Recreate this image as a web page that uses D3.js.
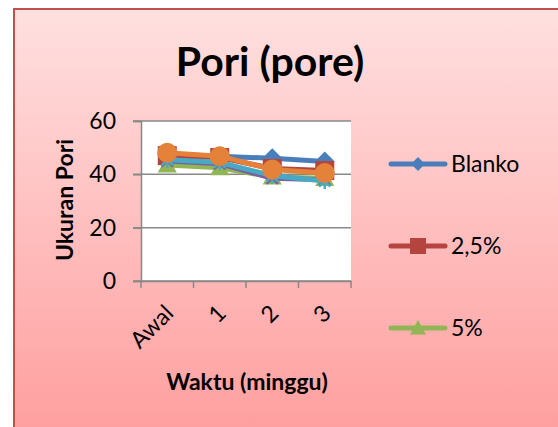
<!DOCTYPE html>
<html><head><meta charset="utf-8">
<script src="https://cdn.jsdelivr.net/npm/d3@7"></script>
<style>html,body{margin:0;padding:0;background:#fff;}svg{display:block;}</style>
</head><body>
<script>
const categories = ["Awal", "1", "2", "3"];
const seriesNames = ["Blanko", "2,5%", "5%", "7,5%", "10%", "12,5%"];
const blanko = [47.5, 46.8, 46.0, 44.8];
const s25 = [47.0, 46.3, 42.2, 41.4];
const s5 = [43.5, 42.5, 39.0, 38.5];
const s75 = [45.0, 44.0, 38.5, 38.0];
const s10 = [45.5, 44.5, 39.5, 37.5];
const s125 = [48.1, 46.8, 41.8, 40.5];
const yTicks = [0, 20, 40, 60];
const legendShown = 3;

const colors = ["#4A7EBB", "#B5443F", "#92B556", "#7D5FA0", "#46AAC4", "#E4823A"];
const markers = ["diamond", "square", "triangle", "x", "star", "circle"];
const allSeries = [blanko, s25, s5, s75, s10, s125];

const W = 558, H = 427;
const font = "Lato, 'Open Sans', 'DejaVu Sans', sans-serif";
const svg = d3.select("body").append("svg").attr("width", W).attr("height", H);
const defs = svg.append("defs");
const grad = defs.append("linearGradient").attr("id", "bg").attr("x1", 0).attr("y1", 0).attr("x2", 0).attr("y2", 1);
grad.append("stop").attr("offset", "0%").attr("stop-color", "#FFE0E0");
grad.append("stop").attr("offset", "100%").attr("stop-color", "#FF9E9E");

svg.append("rect").attr("x", 16).attr("y", 11).attr("width", W).attr("height", H).attr("fill", "#d9a0a0").attr("opacity", 0.4);
svg.append("rect").attr("x", 14).attr("y", 9).attr("width", W).attr("height", H)
  .attr("fill", "url(#bg)").attr("stroke", "#C0504D").attr("stroke-width", 2);

const plot = {l: 141, r: 351, t: 121, b: 281};
const x = d3.scaleBand().domain(categories).range([plot.l, plot.r]);
const y = d3.scaleLinear().domain([0, 60]).range([plot.b, plot.t]);

svg.append("rect").attr("x", plot.l).attr("y", plot.t).attr("width", plot.r - plot.l).attr("height", plot.b - plot.t).attr("fill", "#fff");

// gridlines
svg.append("g").selectAll("line").data(yTicks).join("line")
  .attr("x1", plot.l - 8).attr("x2", plot.r).attr("y1", d => y(d)).attr("y2", d => y(d))
  .attr("stroke", "#888").attr("stroke-width", 1.5);

// y axis
const yAxis = svg.append("g").attr("transform", `translate(${plot.l},0)`)
  .call(d3.axisLeft(y).tickValues(yTicks).tickSize(8).tickPadding(17));
yAxis.select(".domain").attr("stroke", "#888").attr("stroke-width", 1.5);
yAxis.selectAll(".tick line").attr("stroke", "#888").attr("stroke-width", 1.5);
yAxis.selectAll("text").attr("font-family", font).attr("font-size", 23).attr("fill", "#000");

// x axis
const xAxis = svg.append("g").attr("transform", `translate(0,${plot.b})`)
  .call(d3.axisBottom(x).tickSize(0).tickFormat(""));
xAxis.select(".domain").attr("stroke", "#888").attr("stroke-width", 1.5);
const xb = [plot.l, ...categories.map(c => x(c) + x.bandwidth())];
svg.append("g").selectAll("line").data(xb).join("line")
  .attr("x1", d => d).attr("x2", d => d).attr("y1", plot.b).attr("y2", plot.b + 7)
  .attr("stroke", "#888").attr("stroke-width", 1.5);
svg.append("g").selectAll("text").data(categories).join("text")
  .attr("transform", d => `translate(${x(d) + x.bandwidth() / 2 + 2},${plot.b + 28}) rotate(-45)`)
  .attr("text-anchor", "end").attr("dy", "0.35em")
  .attr("font-family", font).attr("font-size", 23).attr("fill", "#000").text(d => d);

function markerPath(type, s) {
  const h = s / 2;
  switch (type) {
    case "diamond": return `M0,${-h}L${h},0L0,${h}L${-h},0Z`;
    case "square": return `M${-h},${-h}H${h}V${h}H${-h}Z`;
    case "triangle": return `M0,${-h}L${h},${h * 0.8}L${-h},${h * 0.8}Z`;
    default: return "";
  }
}

const line = d3.line().x((d, i) => x(categories[i]) + x.bandwidth() / 2).y(d => y(d));
allSeries.forEach((vals, si) => {
  const g = svg.append("g");
  g.append("path").datum(vals).attr("d", line).attr("fill", "none")
    .attr("stroke", colors[si]).attr("stroke-width", 5).attr("stroke-linejoin", "round");
  vals.forEach((v, i) => {
    const cx = x(categories[i]) + x.bandwidth() / 2, cy = y(v);
    const m = markers[si];
    if (m === "circle") {
      g.append("circle").attr("cx", cx).attr("cy", cy).attr("r", 10).attr("fill", colors[si]);
    } else if (m === "x" || m === "star") {
      const r = 8;
      const angles = m === "x" ? [45, 135] : [45, 135, 90];
      angles.forEach(a => {
        const rad = a * Math.PI / 180;
        g.append("line").attr("x1", cx - r * Math.cos(rad)).attr("y1", cy - r * Math.sin(rad))
          .attr("x2", cx + r * Math.cos(rad)).attr("y2", cy + r * Math.sin(rad))
          .attr("stroke", colors[si]).attr("stroke-width", 2.5);
      });
    } else {
      const size = m === "diamond" ? 20 : 19;
      g.append("path").attr("d", markerPath(m, size)).attr("transform", `translate(${cx},${cy})`).attr("fill", colors[si]);
    }
  });
});

// title
svg.append("text").attr("x", 270).attr("y", 76).attr("text-anchor", "middle")
  .attr("font-family", font).attr("font-weight", "bold").attr("font-size", 41).attr("fill", "#000").text("Pori (pore)");
// axis titles
svg.append("text").attr("transform", "translate(73,200) rotate(-90)").attr("text-anchor", "middle")
  .attr("font-family", font).attr("font-weight", "bold").attr("font-size", 23).attr("fill", "#000").text("Ukuran Pori");
svg.append("text").attr("x", 247).attr("y", 390).attr("text-anchor", "middle")
  .attr("font-family", font).attr("font-weight", "bold").attr("font-size", 23).attr("fill", "#000").text("Waktu (minggu)");

// legend
const legY = [164, 246, 328];
for (let i = 0; i < legendShown; i++) {
  const g = svg.append("g").attr("transform", `translate(0,${legY[i]})`);
  g.append("line").attr("x1", 391).attr("x2", 445).attr("y1", 0).attr("y2", 0)
    .attr("stroke", colors[i]).attr("stroke-width", 5).attr("stroke-linecap", "round");
  const size = markers[i] === "diamond" ? 14 : 16;
  g.append("path").attr("d", markerPath(markers[i], size)).attr("transform", "translate(418,0)").attr("fill", colors[i]);
  g.append("text").attr("x", 451).attr("y", 0).attr("dy", "0.35em")
    .attr("font-family", font).attr("font-size", 23).attr("fill", "#000").text(seriesNames[i]);
}
</script>
</body></html>
